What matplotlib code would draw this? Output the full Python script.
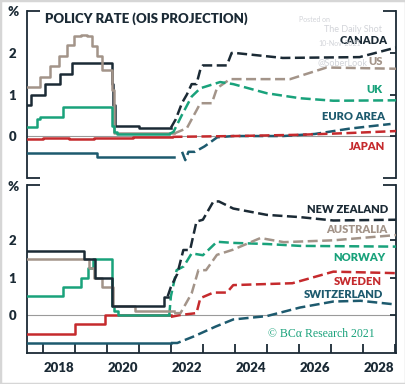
"""
plot.py
Policy rates with OIS projections, two panels (BCA-style chart).
Writes out.png.
"""

import matplotlib
matplotlib.use("Agg")
import matplotlib.pyplot as plt
from matplotlib.patches import Rectangle

plt.rcParams.update({
    "font.family": ["Lato", "DejaVu Sans"],
    "font.weight": "heavy",
})

NAVY = "#1b2a35"
TAUPE = "#a39489"
GREEN = "#19a27b"
TEAL = "#1d5a6e"
RED = "#c52a2d"
ZERO = "#9a9a9a"

# ---- top panel: history (step series) and OIS projection ----
canada_hist_x = [2017.5, 2017.62, 2018.07, 2018.54, 2018.9, 2020.17, 2020.2, 2020.24, 2021.0, 2022.0]
canada_hist_y = [0.75, 1.0, 1.25, 1.5, 1.75, 1.25, 0.75, 0.25, 0.2, 0.2]
canada_proj_x = [2022.0, 2022.15, 2022.35, 2022.5, 2022.65, 2022.8, 2022.92, 2023.0,
                 2023.75, 2023.9, 2024.0, 2025.5, 2027.9, 2029.04]
canada_proj_y = [0.2, 0.4, 0.8, 1.0, 1.25, 1.25, 1.6, 1.7, 1.7, 2.0, 2.0, 1.88, 1.9, 2.13]

us_hist_x = [2017.5, 2017.92, 2018.23, 2018.49, 2018.75, 2018.96, 2019.2, 2019.38,
             2019.53, 2019.69, 2019.84, 2020.17, 2020.22, 2022.1]
us_hist_y = [1.17, 1.42, 1.68, 1.92, 2.18, 2.40, 2.44, 2.40, 2.17, 1.92, 1.6, 1.1, 0.08, 0.08]
us_proj_x = [2022.1, 2022.5, 2022.81, 2022.92, 2023.28, 2023.44, 2023.85, 2025.73, 2026.87, 2029.04]
us_proj_y = [0.06, 0.19, 0.63, 0.79, 0.79, 1.15, 1.37, 1.37, 1.65, 1.62]

uk_hist_x = [2017.5, 2017.81, 2017.9, 2018.64, 2020.17, 2020.22, 2020.3, 2021.95]
uk_hist_y = [0.22, 0.42, 0.47, 0.71, 0.25, 0.1, 0.05, 0.05]
uk_proj_x = [2021.95, 2022.08, 2022.34, 2022.65, 2022.92, 2023.54, 2023.95, 2025.0,
             2026.04, 2027.08, 2029.04]
uk_proj_y = [0.05, 0.1, 0.5, 0.95, 1.15, 1.3, 1.25, 1.03, 0.91, 0.85, 0.86]

euro_hist_x = [2017.5, 2019.69, 2022.1]
euro_hist_y = [-0.4, -0.5, -0.5]
euro_proj_x = [2022.35, 2022.45, 2022.55, 2022.75, 2023.05, 2023.45, 2023.95, 2025.5,
               2026.5, 2027.6, 2028.87]
euro_proj_y = [-0.38, -0.58, -0.38, -0.38, -0.25, -0.03, 0.0, 0.0, 0.05, 0.18, 0.29]

japan_hist_x = [2017.5, 2018.0, 2018.8, 2019.6, 2020.3, 2020.8, 2021.5, 2022.05]
japan_hist_y = [-0.06, -0.05, -0.07, -0.05, -0.04, -0.02, -0.02, -0.02]
japan_proj_x = [2022.05, 2024.0, 2026.0, 2027.5, 2029.04]
japan_proj_y = [-0.02, 0.0, 0.03, 0.07, 0.12]

# ---- bottom panel ----
nz_hist_x = [2017.5, 2019.27, 2019.63, 2020.17, 2021.77, 2021.9]
nz_hist_y = [1.72, 1.49, 0.98, 0.24, 0.49, 0.49]
nz_proj_x = [2021.9, 2022.0, 2022.2, 2022.39, 2022.6, 2022.8, 2023.0, 2023.33, 2023.5,
             2023.95, 2025.0, 2026.04, 2027.08, 2029.04]
nz_proj_y = [0.5, 0.75, 1.1, 1.74, 1.74, 2.5, 2.55, 3.04, 3.04, 2.85, 2.68, 2.62, 2.53, 2.55]

aus_hist_x = [2017.5, 2019.45, 2019.6, 2019.85, 2020.2, 2020.88, 2022.1]
aus_hist_y = [1.5, 1.25, 1.0, 0.75, 0.25, 0.1, 0.1]
aus_proj_x = [2022.1, 2022.3, 2022.65, 2022.86, 2023.1, 2023.44, 2023.95, 2024.8,
              2025.53, 2027.1, 2029.04]
aus_proj_y = [0.05, 0.05, 0.58, 1.2, 1.2, 1.61, 1.75, 2.06, 1.95, 2.0, 2.14]

nor_hist_x = [2017.5, 2018.64, 2019.2, 2019.4, 2019.55, 2020.17, 2020.22, 2020.36, 2021.95]
nor_hist_y = [0.5, 0.75, 1.0, 1.25, 1.5, 0.25, 0.1, 0.0, 0.0]
nor_proj_x = [2021.95, 2022.0, 2022.18, 2022.4, 2022.65, 2023.0, 2023.44, 2023.95,
              2025.0, 2026.04, 2029.04]
nor_proj_y = [0.0, 0.5, 1.2, 1.3, 1.65, 1.6, 1.96, 1.93, 1.9, 1.85, 1.83]

swe_hist_x = [2017.5, 2019.0, 2019.95, 2022.0]
swe_hist_y = [-0.5, -0.25, 0.0, 0.0]
swe_proj_x = [2022.0, 2022.3, 2022.8, 2022.92, 2023.33, 2023.75, 2023.95, 2025.8,
              2027.08, 2029.04]
swe_proj_y = [-0.05, 0.0, 0.05, 0.45, 0.6, 0.6, 0.8, 0.85, 1.16, 1.12]

swi_hist_x = [2017.5, 2022.0]
swi_hist_y = [-0.75, -0.75]
swi_proj_x = [2022.0, 2022.2, 2022.7, 2023.4, 2023.95, 2025.0, 2026.04, 2027.08,
              2027.93, 2029.04]
swi_proj_y = [-0.75, -0.75, -0.58, -0.31, -0.12, -0.03, 0.2, 0.36, 0.38, 0.28]

YEARS = list(range(2018, 2030))
YEAR_LABELS = ["2018", "2020", "2022", "2024", "2026", "2028"]
X_LIM = (2017.5, 2029.04)

TOP_SERIES = [
    (canada_hist_x, canada_hist_y, canada_proj_x, canada_proj_y, NAVY, "CANADA", 2028.79, 2.31),
    (us_hist_x, us_hist_y, us_proj_x, us_proj_y, TAUPE, "US", 2028.63, 1.79),
    (uk_hist_x, uk_hist_y, uk_proj_x, uk_proj_y, GREEN, "UK", 2028.63, 1.11),
    (euro_hist_x, euro_hist_y, euro_proj_x, euro_proj_y, TEAL, "EURO AREA", 2028.7, 0.48),
    (japan_hist_x, japan_hist_y, japan_proj_x, japan_proj_y, RED, "JAPAN", 2028.7, -0.26),
]
BOTTOM_SERIES = [
    (swi_hist_x, swi_hist_y, swi_proj_x, swi_proj_y, TEAL, "SWITZERLAND", 2028.63, 0.55),
    (swe_hist_x, swe_hist_y, swe_proj_x, swe_proj_y, RED, "SWEDEN", 2028.6, 0.89),
    (nor_hist_x, nor_hist_y, nor_proj_x, nor_proj_y, GREEN, "NORWAY", 2028.7, 1.55),
    (aus_hist_x, aus_hist_y, aus_proj_x, aus_proj_y, TAUPE, "AUSTRALIA", 2028.76, 2.28),
    (nz_hist_x, nz_hist_y, nz_proj_x, nz_proj_y, NAVY, "NEW ZEALAND", 2028.79, 2.83),
]


def _frame(ax, ylim, bottom_axis):
    ax.set_xlim(*X_LIM)
    ax.set_ylim(*ylim)
    ax.axhline(0, color=ZERO, lw=0.8, zorder=1)
    for side in ("left", "right"):
        ax.spines[side].set_color(NAVY)
        ax.spines[side].set_linewidth(1.3)
    ax.spines["top"].set_visible(False)
    ax.spines["bottom"].set_visible(bottom_axis)
    ax.spines["bottom"].set_color(NAVY)
    ax.spines["bottom"].set_linewidth(1.3)
    # short corner stubs where there is no full spine
    stub = 0.035
    ys = [1.0] if bottom_axis else [0.0, 1.0]
    for y in ys:
        ax.plot([0, stub], [y, y], color=NAVY, lw=1.3, transform=ax.transAxes,
                clip_on=False, solid_capstyle="butt")
        ax.plot([1 - stub, 1], [y, y], color=NAVY, lw=1.3, transform=ax.transAxes,
                clip_on=False, solid_capstyle="butt")
    ax.set_yticks([0, 1, 2])
    ax.tick_params(axis="y", left=False, right=True, labelleft=True, direction="in",
                   length=4, width=1.3, color=NAVY, pad=8, labelsize=9.5,
                   labelcolor=NAVY)
    if bottom_axis:
        ax.set_xticks([y + 0.5 for y in range(2018, 2029, 2)])
        ax.set_xticklabels(YEAR_LABELS)
        ax.set_xticks(YEARS, minor=True)
        ax.tick_params(axis="x", which="major", length=0, pad=7, labelsize=9.5,
                       labelcolor=NAVY)
        ax.tick_params(axis="x", which="minor", direction="in", length=6.5,
                       width=1.3, color=NAVY)
    else:
        ax.set_xticks([])


def _draw(ax, series):
    for hx, hy, px, py, col, name, lx, ly in series:
        ax.plot(hx, hy, color=col, lw=1.8, drawstyle="steps-post", zorder=3)
        ax.plot(px, py, color=col, lw=1.8, dashes=(4, 1.8), zorder=3)
        ax.text(lx, ly, name, color=col, fontsize=8, fontweight="heavy",
                ha="right", va="center")


fig = plt.figure(figsize=(4.06, 3.84), dpi=100)
ax1 = fig.add_axes([27 / 406, 1 - 178 / 384, 369 / 406, 167 / 384])
ax2 = fig.add_axes([27 / 406, 1 - 352.7 / 384, 369 / 406, 167.7 / 384])

_frame(ax1, (-1.01, 3.01), bottom_axis=False)
_frame(ax2, (-1.01, 3.48), bottom_axis=True)
_draw(ax1, TOP_SERIES)
_draw(ax2, BOTTOM_SERIES)

ax1.text(0.049, 0.952, "POLICY RATE (OIS PROJECTION)", transform=ax1.transAxes,
         fontsize=9.5, fontweight="heavy", color=NAVY, va="center", ha="left")
ax2.text(2028.38, -0.52, "\u00a9 BC\u03b1 Research 2021", color=GREEN, fontsize=8.5,
         fontweight="normal", family=["Liberation Serif", "DejaVu Serif"],
         ha="right", va="center")

# faint watermark
wm = "#d2d4d9"
fig.text(315 / 406, 1 - 19 / 384, "Posted on", fontsize=5, color=wm, ha="center",
         va="center", fontweight="normal")
fig.text(353 / 406, 1 - 30 / 384, "The Daily Shot", fontsize=6.5, color=wm, ha="center",
         va="center", fontweight="normal")
fig.text(340 / 406, 1 - 43 / 384, "10-Nov-2021", fontsize=5, color=wm, ha="center",
         va="center", fontweight="normal", zorder=0)
fig.text(343 / 406, 1 - 63 / 384, "@SoberLook", fontsize=6.5, color=wm, ha="center",
         va="center", fontweight="normal", zorder=0)

fig.text(13 / 406, 1 - 12 / 384, "%", fontsize=9.5, color=NAVY, ha="center", va="center")
fig.text(13 / 406, 1 - 187 / 384, "%", fontsize=9.5, color=NAVY, ha="center", va="center")

fig.patches.append(Rectangle((0, 0), 1, 1, transform=fig.transFigure, fill=False,
                             ec="#d6d6d6", lw=2.5))

fig.savefig("out.png", dpi=100)
